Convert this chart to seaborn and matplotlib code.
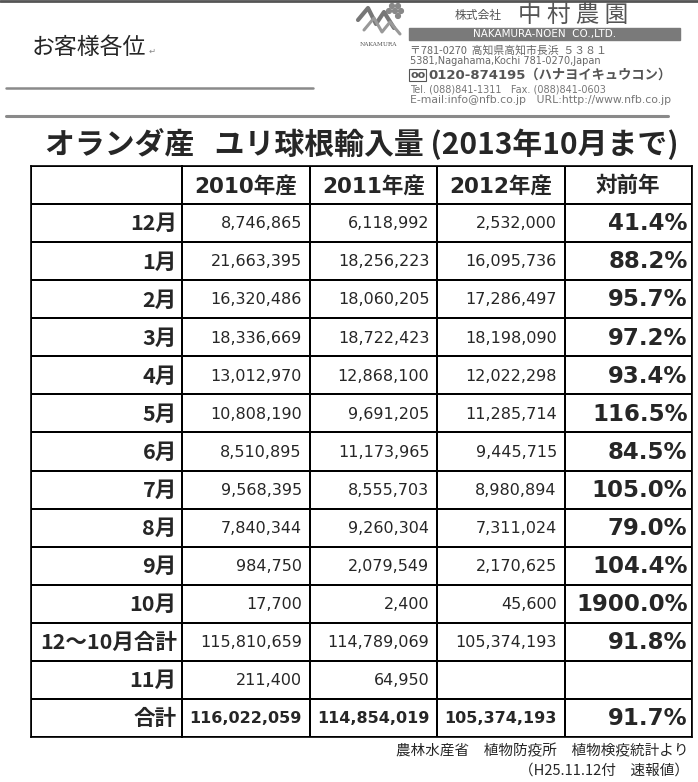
import numpy as np
import pandas as pd
import matplotlib
matplotlib.use("Agg")
import matplotlib.pyplot as plt
from matplotlib.colors import ListedColormap
from matplotlib.patches import Rectangle, Circle
from matplotlib.lines import Line2D
import seaborn as sns

W, H = 698, 782
DPI = 100

TITLE = "オランダ産   ユリ球根輸入量 (2013年10月まで)"
COLUMNS = ["2010年産", "2011年産", "2012年産", "対前年"]
MONTHS = ["12月", "1月", "2月", "3月", "4月", "5月", "6月", "7月", "8月", "9月",
          "10月", "12～10月合計", "11月", "合計"]
Y2010 = [8746865, 21663395, 16320486, 18336669, 13012970, 10808190, 8510895,
         9568395, 7840344, 984750, 17700, 115810659, 211400, 116022059]
Y2011 = [6118992, 18256223, 18060205, 18722423, 12868100, 9691205, 11173965,
         8555703, 9260304, 2079549, 2400, 114789069, 64950, 114854019]
Y2012 = [2532000, 16095736, 17286497, 18198090, 12022298, 11285714, 9445715,
         8980894, 7311024, 2170625, 45600, 105374193, None, 105374193]
RATIO = [41.4, 88.2, 95.7, 97.2, 93.4, 116.5, 84.5, 105.0, 79.0, 104.4,
         1900.0, 91.8, None, 91.7]

sns.set_theme(style="white")
plt.rcParams['font.family'] = ['Noto Sans CJK JP', 'DejaVu Sans']
MIXED = ['DejaVu Sans', 'Noto Sans CJK JP']

df = pd.DataFrame({"2010": Y2010, "2011": Y2011, "2012": Y2012, "ratio": RATIO},
                  index=MONTHS)

fig = plt.figure(figsize=(W / DPI, H / DPI), dpi=DPI)
fig.patch.set_facecolor("white")


def fx(px):
    return px / W


def fy(py):
    return 1 - py / H


# ---- letterhead ----
fig.add_artist(Line2D([0, 1], [fy(1), fy(1)], color="#555555", lw=2))
fig.text(fx(32), fy(48), "お客様各位", fontsize=16.5, va="center", ha="left")
fig.text(fx(149), fy(51), "↵", fontsize=6, color="#888888", va="center",
         family="DejaVu Sans")
fig.add_artist(Line2D([fx(6), fx(313)], [fy(88), fy(88)], color="#8a8a8a", lw=1.8))
fig.add_artist(Line2D([fx(6), fx(668)], [fy(116), fy(116)], color="#8a8a8a", lw=2.2))

# logo
lax = fig.add_axes([fx(354), fy(42), fx(52), 40 / H])
lax.set_xlim(0, 52)
lax.set_ylim(40, 0)
lax.axis("off")
lax.plot([4, 14, 22, 30, 40], [18, 6, 22, 10, 26], color="#777777", lw=3,
         solid_capstyle="round")
lax.plot([10, 20, 28, 36, 46], [28, 16, 30, 20, 32], color="#999999", lw=2.2,
         solid_capstyle="round")
for cx, cy in [(38, 4), (44, 4), (41, 9), (47, 9), (35, 9), (44, 14)]:
    lax.add_patch(Circle((cx, cy), 2.4, color="#888888"))
fig.text(fx(378), fy(44), "NAKAMURA", fontsize=4.2, color="#555555",
         ha="center", va="center", family="DejaVu Serif")

fig.text(fx(455), fy(16), "株式会社", fontsize=8.5, color="#555555", va="center")
fig.text(fx(518), fy(15), "中 村 農 園", fontsize=17, color="#555555", va="center")
fig.add_artist(Rectangle((fx(409), fy(40)), fx(680) - fx(409), 12 / H,
                         color="#7a7a7a", transform=fig.transFigure))
fig.text(fx(545), fy(34), "NAKAMURA-NOEN  CO.,LTD.", fontsize=7.5, color="white",
         ha="center", va="center", family="DejaVu Sans")
fig.text(fx(410), fy(50), "〒781-0270  高知県高知市長浜  ５３８１", fontsize=7.8,
         color="#666666", va="center")
fig.text(fx(410), fy(61), "5381,Nagahama,Kochi 781-0270,Japan", fontsize=7,
         color="#666666", va="center", family="DejaVu Sans")
fig.text(fx(410), fy(75), "oo", fontsize=8, color="#555555", va="center",
         fontweight="bold", family="DejaVu Sans",
         bbox=dict(boxstyle="square,pad=0.1", fc="white", ec="#555555", lw=0.8))
fig.text(fx(428), fy(75), "0120-874195（ハナヨイキュウコン）", fontsize=9.5,
         color="#555555", va="center", fontweight="bold", family=MIXED)
fig.text(fx(410), fy(89), "Tel. (088)841-1311   Fax. (088)841-0603", fontsize=7,
         color="#777777", va="center", family="DejaVu Sans")
fig.text(fx(410), fy(100), "E-mail:info@nfb.co.jp   URL:http://www.nfb.co.jp",
         fontsize=7.8, color="#777777", va="center", family="DejaVu Sans")

# ---- title ----
fig.text(fx(45), fy(143), TITLE, fontsize=21.5, fontweight="bold", va="center",
         ha="left")

# ---- table ----
TOP, BOTTOM, LEFT, SPLIT, RIGHT = 166, 737, 31, 182, 692
nrows = len(MONTHS) + 1
ax_lab = fig.add_axes([fx(LEFT), fy(BOTTOM), fx(SPLIT) - fx(LEFT), (BOTTOM - TOP) / H])
ax_tab = fig.add_axes([fx(SPLIT), fy(BOTTOM), fx(RIGHT) - fx(SPLIT), (BOTTOM - TOP) / H])

white = ListedColormap(["white"])
sns.heatmap(np.zeros((nrows, 1)), ax=ax_lab, cmap=white, cbar=False,
            linewidths=1.2, linecolor="black", xticklabels=False, yticklabels=False)
sns.heatmap(np.zeros((nrows, len(COLUMNS))), ax=ax_tab, cmap=white, cbar=False,
            linewidths=1.2, linecolor="black", xticklabels=False, yticklabels=False)
for ax in (ax_lab, ax_tab):
    for s in ax.spines.values():
        s.set_visible(True)
        s.set_color("black")
        s.set_linewidth(1.2)

for j, c in enumerate(COLUMNS):
    ax_tab.text(j + 0.5, 0.52, c, ha="center", va="center", fontsize=15.5,
                fontweight="bold", family=MIXED)

for i, m in enumerate(MONTHS):
    r = i + 1.52
    total = m == "合計"
    ax_lab.text(0.965, r, m, ha="right", va="center", fontsize=15.5, fontweight="bold")
    for j, col in enumerate(["2010", "2011", "2012"]):
        v = df.loc[m, col]
        if pd.isna(v):
            continue
        ax_tab.text(j + 0.94, r, f"{int(v):,}", ha="right", va="center",
                    fontsize=11.5, fontweight="bold" if total else "normal",
                    family="DejaVu Sans")
    rv = df.loc[m, "ratio"]
    if not pd.isna(rv):
        ax_tab.text(3.965, r, f"{rv:.1f}%", ha="right", va="center", fontsize=16.5,
                    fontweight="bold", family="DejaVu Sans")

# ---- footer ----
fig.text(fx(689), fy(751), "農林水産省　植物防疫所　植物検疫統計より", fontsize=10.5,
         ha="right", va="center")
fig.text(fx(689), fy(771), "（H25.11.12付　速報値）", fontsize=10.5, ha="right",
         va="center")

fig.savefig("out.png", dpi=DPI)
